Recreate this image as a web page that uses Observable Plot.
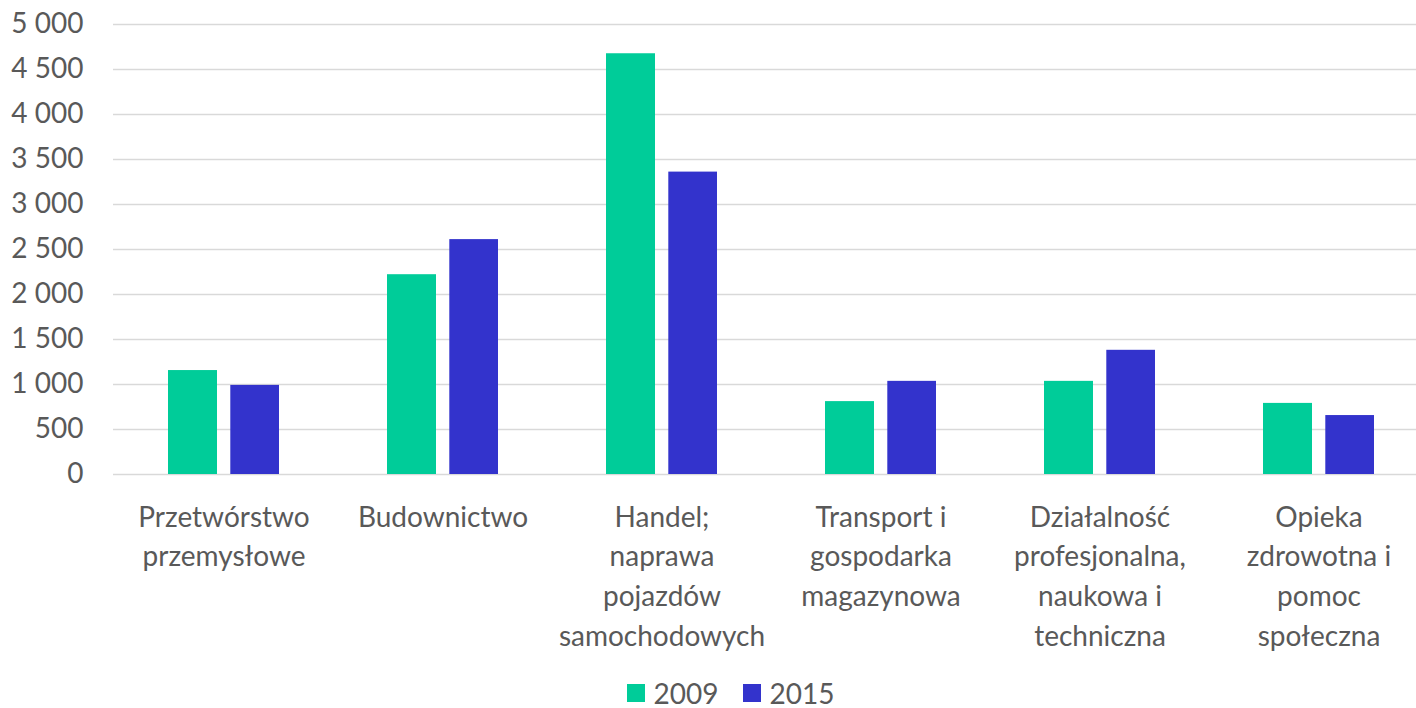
<!DOCTYPE html>
<html>
<head>
<meta charset="utf-8">
<script src="https://cdn.jsdelivr.net/npm/d3@7"></script>
<script src="https://cdn.jsdelivr.net/npm/@observablehq/plot@0.6"></script>
<style>
  html, body { margin: 0; padding: 0; background: #fff; overflow: hidden; }
  #chart svg { display: block; }
  .legend { display: flex; justify-content: center; align-items: center; height: 56px; padding-left: 45px;
            font-family: Lato, "Open Sans", sans-serif; font-size: 28px; color: #595959; }
  .legend .item { display: flex; align-items: center; margin: 0 12px; }
  .legend .sw { width: 18px; height: 18px; margin-right: 9px; }
</style>
</head>
<body>
<div id="chart"></div>
<div class="legend" id="legend"></div>
<script>
const categories = [
  "Przetwórstwo przemysłowe",
  "Budownictwo",
  "Handel; naprawa pojazdów samochodowych",
  "Transport i gospodarka magazynowa",
  "Działalność profesjonalna, naukowa i techniczna",
  "Opieka zdrowotna i pomoc społeczna"
];
const categoryLabels = [
  "Przetwórstwo\nprzemysłowe",
  "Budownictwo",
  "Handel;\nnaprawa\npojazdów\nsamochodowych",
  "Transport i\ngospodarka\nmagazynowa",
  "Działalność\nprofesjonalna,\nnaukowa i\ntechniczna",
  "Opieka\nzdrowotna i\npomoc\nspołeczna"
];
const years = ["2009", "2015"];
const values2009 = [1155, 2220, 4675, 810, 1035, 790];
const values2015 = [990, 2610, 3360, 1035, 1380, 655];
const colors = ["#00CC99", "#3333CC"];
const yTicks = [0, 500, 1000, 1500, 2000, 2500, 3000, 3500, 4000, 4500, 5000];

const data2009 = categories.map((c, i) => ({category: c, value: values2009[i], year: years[0]}));
const data2015 = categories.map((c, i) => ({category: c, value: values2015[i], year: years[1]}));
const labelOf = new Map(categories.map((c, i) => [c, categoryLabels[i]]));
const fmt = d => d3.format(",")(d).replace(/,/g, " ");

const chart = Plot.plot({
  width: 1416,
  height: 665,
  marginLeft: 113,
  marginRight: -12,
  marginTop: 24,
  marginBottom: 191,
  style: {fontFamily: "Lato, 'Open Sans', sans-serif", fontSize: "28px", color: "#595959", background: "#fff"},
  x: {domain: categories, padding: 0},
  y: {domain: [0, 5000]},
  marks: [
    Plot.ruleY(yTicks, {stroke: "#d9d9d9", strokeWidth: 1.5}),
    Plot.barY(data2009, {x: "category", y: "value", fill: colors[0], insetLeft: 54, insetRight: 116}),
    Plot.barY(data2015, {x: "category", y: "value", fill: colors[1], insetLeft: 116.3, insetRight: 54}),
    Plot.axisY({ticks: yTicks, tickFormat: fmt, tickSize: 0, tickPadding: 30, fontSize: 28, fill: "#595959", label: null}),
    Plot.axisX({tickFormat: d => labelOf.get(d), tickSize: 0, tickPadding: 24, fontSize: 28, lineHeight: 1.42, lineAnchor: "top", fill: "#595959", label: null})
  ]
});
document.getElementById("chart").appendChild(chart);

const legend = document.getElementById("legend");
years.forEach((y, i) => {
  const item = document.createElement("div");
  item.className = "item";
  const sw = document.createElement("div");
  sw.className = "sw";
  sw.style.background = colors[i];
  const t = document.createElement("span");
  t.textContent = y;
  item.appendChild(sw);
  item.appendChild(t);
  legend.appendChild(item);
});
</script>
</body>
</html>
